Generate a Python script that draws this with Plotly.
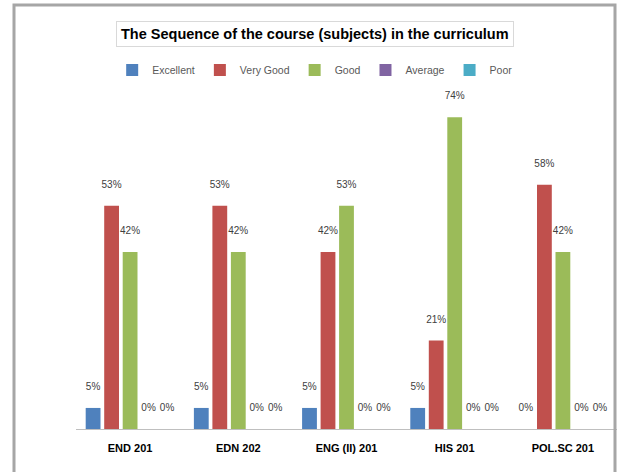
import plotly.graph_objects as go

categories = ["END 201", "EDN 202", "ENG (II) 201", "HIS 201", "POL.SC 201"]
series_names = ["Excellent", "Very Good", "Good", "Average", "Poor"]
excellent = [5, 5, 5, 5, 0]
very_good = [53, 53, 42, 21, 58]
good = [42, 42, 53, 74, 42]
average = [0, 0, 0, 0, 0]
poor = [0, 0, 0, 0, 0]
colors = ["#4F81BD", "#C0504D", "#9BBB59", "#8064A2", "#4BACC6"]

W, H = 618, 472
L, R, T, B = 76, 1, 92, 43
pw, ph = W - L - R, H - T - B
FONT = "Liberation Sans Narrow, Liberation Sans, sans-serif"

fig = go.Figure()
for name, vals, col in zip(series_names, [excellent, very_good, good, average, poor], colors):
    fig.add_trace(go.Bar(
        name=name, x=categories, y=vals, marker_color=col, marker_line_width=0,
        text=[f"{v}%<br>&nbsp;" for v in vals], textposition="outside", cliponaxis=False,
        constraintext="none",
        textfont=dict(size=10, color="#404040", family=FONT),
    ))

def px_x(x):
    return (x - L) / pw

def px_y(y):
    return (H - B - y) / ph

frame = dict(color="#A6A6A6", width=2.5)
fig.update_layout(
    width=W, height=H,
    margin=dict(l=L, r=R, t=T, b=B),
    paper_bgcolor="white", plot_bgcolor="white",
    barmode="group", bargap=0.145, bargroupgap=0.2,
    showlegend=True,
    legend=dict(orientation="h", x=0.51, xanchor="center", xref="container",
                y=(H - 70) / H, yref="container", yanchor="middle",
                font=dict(size=10.5, color="#595959", family=FONT),
                itemwidth=30, tracegroupgap=0),
    xaxis=dict(showline=True, linecolor="#BFBFBF", linewidth=1, ticks="",
               ticklabelstandoff=9,
               tickfont=dict(size=11, color="#000000", family=FONT, weight="bold")),
    yaxis=dict(range=[0, 80], visible=False, showgrid=False),
    annotations=[dict(
        text="<b>The Sequence of the course (subjects) in the curriculum</b>",
        xref="paper", yref="paper", x=px_x(315), y=px_y(34), xanchor="center", yanchor="middle",
        showarrow=False, bordercolor="#D9D9D9", borderwidth=1, borderpad=4,
        font=dict(size=14.5, color="#000000", family=FONT),
    )],
    shapes=[
        dict(type="path", xref="paper", yref="paper",
             path=f"M {px_x(14)},{px_y(472)} L {px_x(14)},{px_y(5)} L {px_x(615)},{px_y(5)} L {px_x(615)},{px_y(472)}",
             line=dict(color="#A6A6A6", width=3), layer="above"),
    ],
)

fig.write_html("out.html", config={"displayModeBar": False},
               post_script="document.body.style.margin='0';document.body.style.overflow='hidden';")
